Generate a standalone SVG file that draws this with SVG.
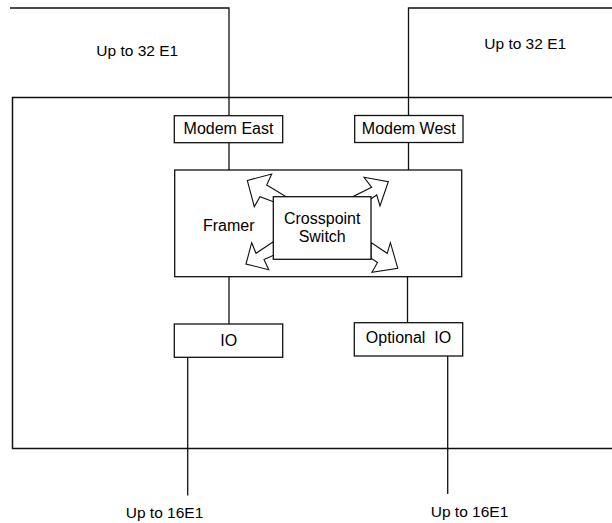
<svg xmlns="http://www.w3.org/2000/svg" width="612" height="523" viewBox="0 0 612 523">
<style>
.ln{fill:none;stroke:#111;stroke-width:1.3}
.bx{fill:#fff;stroke:#111;stroke-width:1.3}
.ar{fill:#fff;stroke:#111;stroke-width:1.1;stroke-linejoin:miter}
.t{font-family:"Liberation Sans",Arial,sans-serif;font-size:16px;fill:#000;text-anchor:middle}
.p{font-family:"Liberation Sans",Arial,sans-serif;font-size:15.5px;fill:#000;text-anchor:middle}
</style>
<rect width="612" height="523" fill="#fff"/>
<g id="chassis">
<path class="ln" d="M612.5,97.5 H12.5 V448.5 H612.5" style="stroke-width:1.5"/>
</g>
<g id="connectors">
<path class="ln" d="M10,8 H229 V115.7"/>
<path class="ln" d="M612,8 H408.5 V115.7"/>
<path class="ln" d="M229,142.7 V170"/>
<path class="ln" d="M408.5,142.7 V170"/>
<path class="ln" d="M229,277 V324"/>
<path class="ln" d="M407.5,277 V322.7"/>
<path class="ln" d="M187.7,357.3 V495.5"/>
<path class="ln" d="M447.7,356 V494"/>
<path class="ln" d="M229,170 L247.3,180.5"/>
<path class="ln" d="M408.5,170 L388.3,181.7"/>
<path class="ln" d="M229,277 L246,264"/>
<path class="ln" d="M407.5,277 L397.8,268.3"/>
</g>
<g id="framer">
<rect class="bx" x="174.7" y="170" width="287" height="106.7"/>
<text class="t" x="228.7" y="231">Framer</text>
</g>
<g id="arrows">
<polygon class="ar" points="247.3,180.5 271.7,174 266.7,185 290,199 282,205 260,196.7 254.3,206.7"/>
<polygon class="ar" points="388.3,181.7 380,206 376.7,195 362,205 352.7,196.7 371.7,187.3 364,177.3"/>
<polygon class="ar" points="246,264 251.7,242.7 256,253.3 273.3,241.7 274.3,255 264,259.5 268.8,269.7"/>
<polygon class="ar" points="397.8,268.3 390.4,242.7 387.2,253.3 371,242.5 371,258.3 377.5,262.5 372,272.2"/>
</g>
<g id="crosspoint">
<rect class="bx" x="273.3" y="196.7" width="97.7" height="62.6"/>
<text class="t" x="322.2" y="224">Crosspoint</text>
<text class="t" x="322.2" y="241.7">Switch</text>
</g>
<g id="modem-east">
<rect class="bx" x="174.3" y="115.7" width="108.4" height="27"/>
<text class="t" x="228.5" y="133.7">Modem East</text>
</g>
<g id="modem-west">
<rect class="bx" x="354.7" y="115.5" width="108.3" height="27"/>
<text class="t" x="408.8" y="133.5">Modem West</text>
</g>
<g id="io">
<rect class="bx" x="174.3" y="324" width="108.4" height="33.3"/>
<text class="t" x="228.7" y="345.7">IO</text>
</g>
<g id="optional-io">
<rect class="bx" x="354.3" y="322.7" width="108.4" height="33.3"/>
<text class="t" x="408.5" y="343.3" xml:space="preserve">Optional  IO</text>
</g>
<g id="labels">
<text class="p" x="137.3" y="56">Up to 32 E1</text>
<text class="p" x="525.2" y="49">Up to 32 E1</text>
<text class="p" x="164.5" y="518.3">Up to 16E1</text>
<text class="p" x="469.5" y="516.7">Up to 16E1</text>
</g>
</svg>
